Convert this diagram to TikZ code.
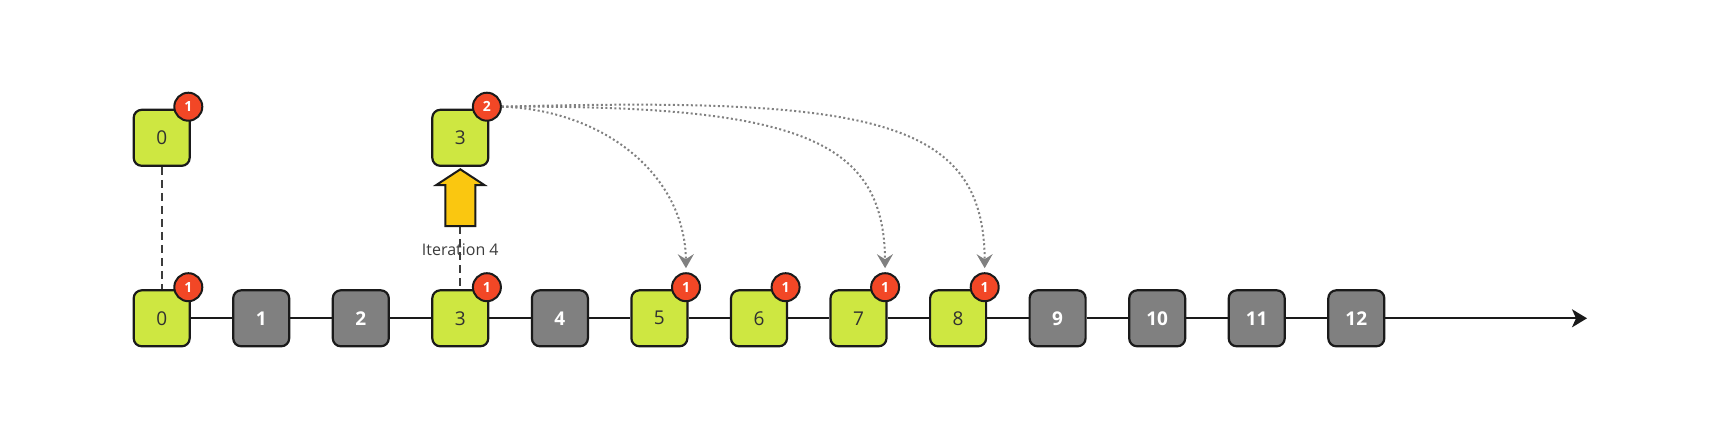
\documentclass[tikz,border=0pt]{standalone}
\usepackage{fontspec}
\setmainfont{Open Sans}
\usetikzlibrary{arrows.meta,calc}

\definecolor{boxgreen}{HTML}{CEE741}
\definecolor{boxgray}{HTML}{808080}
\definecolor{badgered}{HTML}{F24726}
\definecolor{arrowyellow}{HTML}{FAC710}
\definecolor{ink}{HTML}{1A1A1A}

\begin{document}
\begin{tikzpicture}[x=1pt,y=-1pt,
  cell/.style={draw=ink, line width=2.2pt, rounded corners=8pt, minimum width=56pt, minimum height=56pt, inner sep=0pt},
  greencell/.style={cell, fill=boxgreen, text=ink!90, font=\fontsize{19}{19}\selectfont},
  graycell/.style={cell, fill=boxgray, text=white, font=\fontsize{19}{19}\selectfont\bfseries},
  badge/.style={circle, draw=ink, line width=2pt, fill=badgered, minimum size=28pt, inner sep=0pt, text=white, font=\fontsize{14}{14}\selectfont\bfseries},
  timeline/.style={draw=ink, line width=2pt},
  link/.style={draw=ink!85, line width=2pt, dash pattern=on 8pt off 5pt},
  jump/.style={draw=boxgray, line width=2pt, dash pattern=on 2pt off 2.5pt, -{Stealth[length=14pt,width=16pt,inset=5pt]}, shorten >=4pt},
  uparrow/.style={draw=ink, fill=arrowyellow, line width=2pt, line join=miter},
  lbl/.style={text=ink!85, font=\fontsize{16}{16}\selectfont, inner sep=0pt},
]
\useasboundingbox (0,0) rectangle (1720,445);

% bottom row
\node[greencell] (b0) at (161.7,318.3) {0};
\node[graycell]  (b1) at (261.2,318.3) {1};
\node[graycell]  (b2) at (360.8,318.3) {2};
\node[greencell] (b3) at (460.3,318.3) {3};
\node[graycell]  (b4) at (559.9,318.3) {4};
\node[greencell] (b5) at (659.4,318.3) {5};
\node[greencell] (b6) at (759.0,318.3) {6};
\node[greencell] (b7) at (858.5,318.3) {7};
\node[greencell] (b8) at (958.1,318.3) {8};
\node[graycell]  (b9) at (1057.6,318.3) {9};
\node[graycell]  (b10) at (1157.2,318.3) {10};
\node[graycell]  (b11) at (1256.7,318.3) {11};
\node[graycell]  (b12) at (1356.3,318.3) {12};
\coordinate (tend) at (1587,318.3);

\draw[timeline] (b0) -- (b1) -- (b2) -- (b3) -- (b4) -- (b5) -- (b6) -- (b7) -- (b8) -- (b9) -- (b10) -- (b11) -- (b12);
\draw[timeline, -{Stealth[length=15pt,width=18pt,inset=4pt]}] (b12) -- (tend);

% top row
\node[greencell] (t0) at (161.7,137.8) {0};
\node[greencell] (t3) at (460.3,137.8) {3};

% badges
\node[badge] (rt0) at ($(t0.north east)+(-2.5,-2)$) {1};
\node[badge] (rt3) at ($(t3.north east)+(-2.5,-2)$) {2};
\node[badge] (r0) at ($(b0.north east)+(-2.5,-2)$) {1};
\node[badge] (r3) at ($(b3.north east)+(-2.5,-2)$) {1};
\node[badge] (r5) at ($(b5.north east)+(-2.5,-2)$) {1};
\node[badge] (r6) at ($(b6.north east)+(-2.5,-2)$) {1};
\node[badge] (r7) at ($(b7.north east)+(-2.5,-2)$) {1};
\node[badge] (r8) at ($(b8.north east)+(-2.5,-2)$) {1};

% dashed links
\draw[link] (t0) -- (b0);
\coordinate (abot) at (460.3,226);
\draw[link] (abot) -- (b3);

% yellow arrow
\draw[uparrow] (460.3,169.3) -- (484.3,185) -- (475.3,185) -- (475.3,226) -- (445.3,226) -- (445.3,185) -- (436.3,185) -- cycle;

\node[lbl] (it) at (460.3,249.5) {Iteration 4};

% dotted jumps
\draw[jump] (rt3.east) .. controls (605,110) and (685,176) .. (r5.north);
\draw[jump] (rt3.east) .. controls (800,105) and (884,140) .. (r7.north);
\draw[jump] (rt3.east) .. controls (870,97) and (984,118) .. (r8.north);
\end{tikzpicture}
\end{document}
